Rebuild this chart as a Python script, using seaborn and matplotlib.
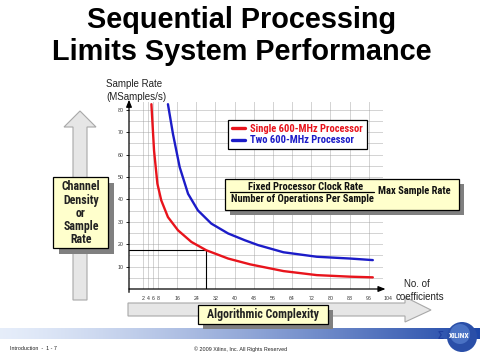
import numpy as np
import pandas as pd
import matplotlib
matplotlib.use("Agg")
import matplotlib.pyplot as plt
import seaborn as sns
from matplotlib import font_manager
from matplotlib.font_manager import FontProperties
from matplotlib.patches import Polygon, Rectangle, Circle

# ---------------- data ----------------
series_names = ["Single 600-MHz Processor", "Two 600-MHz Processor"]
single_x = [5.3, 6.4, 7.8, 9.4, 12.2, 16.4, 22.0, 28.2, 37.3, 46.5, 60.4, 74.3, 88.2, 97.7]
single_y = [82.5, 61.8, 47.0, 39.6, 32.1, 26.2, 21.0, 17.3, 13.6, 11.0, 8.0, 6.2, 5.5, 5.2]
two_x = [12.2, 14.3, 17.1, 20.6, 24.7, 30.3, 37.3, 44.2, 49.8, 60.4, 74.3, 88.2, 97.7]
two_y = [82.5, 69.2, 54.4, 42.5, 35.1, 29.2, 24.8, 21.8, 19.6, 16.4, 14.4, 13.6, 12.9]
x_ticks = [2, 4, 6, 8, 16, 24, 32, 40, 48, 56, 64, 72, 80, 88, 96, 104]
x_ticklabels = ["2", "4", "6", "8", "16", "24", "32", "40", "48", "56", "64", "72", "80", "88", "96", "104"]
y_ticks = [10, 20, 30, 40, 50, 60, 70, 80]
y_ticklabels = ["10", "20", "30", "40", "50", "60", "70", "80"]
marker_x = 28.2
marker_y = 17.3

title_lines = ["Sequential Processing", "Limits System Performance"]
side_label = "Channel\nDensity\nor\nSample\nRate"
bottom_label = "Algorithmic Complexity"
y_label = ["Sample Rate", "(MSamples/s)"]
x_label = ["No. of", "coefficients"]
numerator = "Fixed Processor Clock Rate"
denominator = "Number of Operations Per Sample"
result = "Max Sample Rate"
footer_left = "Introduction  -  1 - 7"
footer_mid = "\u00a9 2009 Xilinx, Inc. All Rights Reserved"

RED = "#e8141c"
BLUE = "#1c1cc8"
YELLOW = "#ffffcc"

def pick(*names):
    for n in names:
        try:
            font_manager.findfont(FontProperties(family=n), fallback_to_default=False)
            return n
        except Exception:
            pass
    return "DejaVu Sans"

sns.set_theme(style="white")
ARIAL = pick("Liberation Sans", "Arial", "DejaVu Sans")
NARROW = pick("Liberation Sans Narrow", "Roboto Condensed", "Liberation Sans")
plt.rcParams["font.family"] = [ARIAL, "DejaVu Sans"]

fig = plt.figure(figsize=(4.8, 3.6), dpi=100)
fig.patch.set_facecolor("white")

# ---------- background (pixel coords) ----------
bg = fig.add_axes([0, 0, 1, 1], zorder=0)
bg.set_xlim(0, 480)
bg.set_ylim(360, 0)
bg.axis("off")

for i, line in enumerate(title_lines):
    bg.text(242, 20 + 32 * i, line, ha="center", va="center", fontsize=20.8,
            fontweight="bold", family=ARIAL, color="black")

# left vertical arrow
left_arrow = [(73, 300), (87, 300), (87, 127), (96, 127), (80, 111), (64, 127), (73, 127)]
bg.add_patch(Polygon(left_arrow, closed=True, facecolor="#e6e6e6", edgecolor="#a8a8a8", lw=0.8))
# bottom horizontal arrow
bottom_arrow = [(128, 303), (405, 303), (405, 297), (431, 310), (405, 322), (405, 316), (128, 316)]
bg.add_patch(Polygon(bottom_arrow, closed=True, facecolor="#e6e6e6", edgecolor="#a8a8a8", lw=0.8))

# footer gradient bar
grad = np.linspace(0, 1, 256)
c0 = np.array([0.90, 0.93, 0.98])
c1 = np.array([0.12, 0.28, 0.66])
img = (c0[None, :] * (1 - grad[:, None] ** 1.3) + c1[None, :] * grad[:, None] ** 1.3)[None, :, :]
bg.imshow(img, extent=[0, 480, 339, 328], aspect="auto", zorder=1)
bg.set_xlim(0, 480)
bg.set_ylim(360, 0)

# logo
bg.add_patch(Circle((462, 337), 15, facecolor="#2a4fa8", edgecolor="none", zorder=2))
bg.add_patch(Circle((460, 334), 10, facecolor="#4a72c4", edgecolor="none", zorder=2))
bg.text(440, 336, "\u03a3", ha="center", va="center", fontsize=7, color="#1f3f9f",
        fontweight="bold", zorder=3)
bg.text(459, 336, "XILINX", ha="center", va="center", fontsize=5.5, color="white",
        fontweight="bold", family=NARROW, zorder=3)

bg.text(10, 349, footer_left, ha="left", va="center", fontsize=3.9, color="#222222", family=ARIAL)
bg.text(241, 349, footer_mid, ha="center", va="center", fontsize=3.9, color="#222222", family=ARIAL)

# ---------- chart axes ----------
ax = fig.add_axes([129 / 480, 71 / 360, 268.5 / 480, 190.4 / 360], zorder=2)
ax.patch.set_alpha(0)
XMIN, XMAX, YMAX = -4.05, 108, 85
ax.set_xlim(XMIN, XMAX)
ax.set_ylim(0, YMAX)
for s in ax.spines.values():
    s.set_visible(False)

grid_kw = dict(colors="#9a9a9a", linestyles=(0, (1.2, 1.2)), linewidth=0.6, zorder=1)
ax.vlines(x_ticks[:-1], 0, 84, **grid_kw)
ax.hlines(np.arange(5, 81, 5), XMIN, 102, **grid_kw)

df = pd.DataFrame({
    "coef": single_x + two_x,
    "rate": single_y + two_y,
    "series": [series_names[0]] * len(single_x) + [series_names[1]] * len(two_x),
})
sns.lineplot(data=df, x="coef", y="rate", hue="series", palette=[RED, BLUE],
             linewidth=1.7, estimator=None, sort=False, ax=ax, zorder=3)

ax.plot([XMIN, marker_x], [marker_y, marker_y], color="black", lw=0.8, zorder=2)
ax.plot([marker_x, marker_x], [0, marker_y], color="black", lw=0.8, zorder=2)

arrow_kw = dict(arrowstyle="-|>,head_length=0.35,head_width=0.14", lw=0.9, color="black",
                shrinkA=0, shrinkB=0)
ax.annotate("", xy=(103, 0), xytext=(XMIN, 0), arrowprops=arrow_kw, annotation_clip=False)
ax.annotate("", xy=(XMIN, 84.5), xytext=(XMIN, -1.5), arrowprops=arrow_kw, annotation_clip=False)

ax.set_xticks(x_ticks)
ax.set_xticklabels(x_ticklabels, fontsize=3.8, color="#333333")
ax.set_yticks(y_ticks)
ax.set_yticklabels(y_ticklabels, fontsize=3.8, color="#333333")
ax.tick_params(axis="x", length=0, pad=5)
ax.tick_params(axis="y", length=2, width=0.6, pad=2, color="black", left=True)
ax.set_xlabel("")
ax.set_ylabel("")

leg = ax.legend(loc="upper left", bbox_to_anchor=(228 / 480, 1 - 120 / 360),
                bbox_transform=fig.transFigure, frameon=True, fancybox=False,
                edgecolor="black", framealpha=1, borderaxespad=0, borderpad=0.35,
                handlelength=1.3, handletextpad=0.45, labelspacing=0.15,
                prop=FontProperties(family=NARROW, weight="bold", size=7.6))
leg.get_frame().set_linewidth(0.9)
for t, c in zip(leg.get_texts(), [RED, BLUE]):
    t.set_color(c)
for h in leg.legend_handles:
    h.set_linewidth(2.4)

# ---------- overlay (pixel coords) ----------
ov = fig.add_axes([0, 0, 1, 1], zorder=5)
ov.set_xlim(0, 480)
ov.set_ylim(360, 0)
ov.axis("off")
ov.patch.set_alpha(0)

def box(x0, y0, x1, y1, sh=5):
    ov.add_patch(Rectangle((x0 + sh, y0 + sh), x1 - x0, y1 - y0, facecolor="#808080", edgecolor="none"))
    ov.add_patch(Rectangle((x0, y0), x1 - x0, y1 - y0, facecolor=YELLOW, edgecolor="black", lw=0.9))

# left box
box(53, 177, 108, 248, sh=6)
for i, ln in enumerate(side_label.split("\n")):
    ov.text(81, 187 + 13.2 * i, ln, ha="center", va="center", fontsize=8.6, fontweight="bold",
            family=NARROW, color="#222222")

# algorithmic box
box(198, 305, 328, 324, sh=5)
ov.text(263, 314.5, bottom_label, ha="center", va="center", fontsize=8.6, fontweight="bold",
        family=NARROW, color="#222222")

# formula box
box(225, 179, 459, 210, sh=5)
ov.text(306, 187.5, numerator, ha="center", va="center", fontsize=7.6, fontweight="bold",
        family=NARROW, color="#111111")
ov.plot([230, 374], [192, 192], color="black", lw=0.9)
ov.text(302, 199.5, denominator, ha="center", va="center", fontsize=7.6, fontweight="bold",
        family=NARROW, color="#111111")
ov.text(378, 191, result, ha="left", va="center", fontsize=7.6, fontweight="bold",
        family=NARROW, color="#111111")

# axis labels
ov.text(106, 84, y_label[0], ha="left", va="center", fontsize=7, family=ARIAL, color="#222222")
ov.text(106, 96.5, y_label[1], ha="left", va="center", fontsize=7, family=ARIAL, color="#222222")
ov.text(404, 284, x_label[0], ha="left", va="center", fontsize=7, family=ARIAL, color="#222222")
ov.text(396, 297, x_label[1], ha="left", va="center", fontsize=7, family=ARIAL, color="#222222")

fig.savefig("out.png", dpi=100, facecolor="white")
